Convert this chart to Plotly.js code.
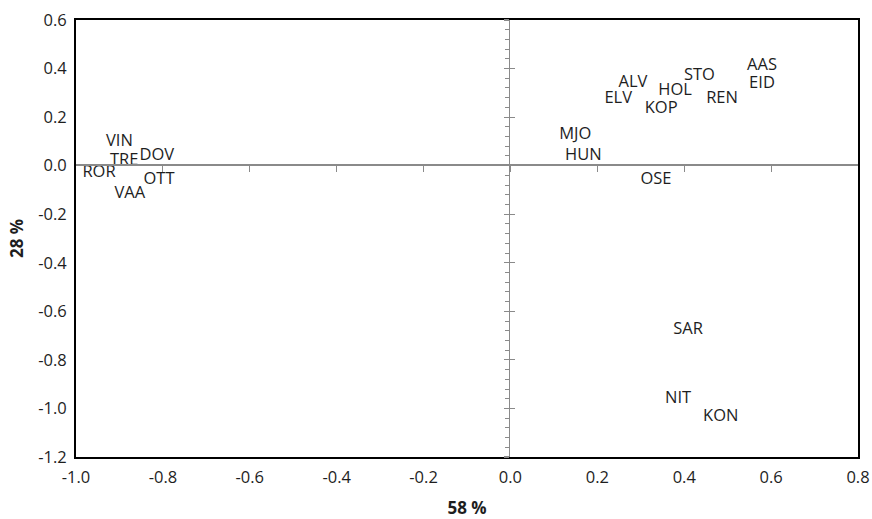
<!DOCTYPE html>
<html>
<head>
<meta charset="utf-8">
<script src="https://cdn.plot.ly/plotly-3.0.1.min.js"></script>
<style>html,body{margin:0;padding:0;background:#fff;}#chart{width:872px;height:519px;}</style>
</head>
<body>
<div id="chart"></div>
<script>
// Site labels and their coordinates on the two ordination axes
const labels = ["VIN","TRE","DOV","ROR","OTT","VAA","AAS","EID","STO","ALV","HOL","ELV","REN","KOP","MJO","HUN","OSE","SAR","NIT","KON"];
const axis1 = [-0.900,-0.889,-0.814,-0.947,-0.809,-0.876,0.579,0.579,0.435,0.282,0.379,0.248,0.487,0.347,0.149,0.168,0.335,0.409,0.386,0.484];
const axis2 = [0.098,0.021,0.040,-0.030,-0.059,-0.117,0.411,0.336,0.369,0.339,0.308,0.277,0.277,0.234,0.126,0.040,-0.057,-0.677,-0.961,-1.035];
const xTickVals = [-1.0,-0.8,-0.6,-0.4,-0.2,0.0,0.2,0.4,0.6,0.8];
const xTickText = ["-1.0","-0.8","-0.6","-0.4","-0.2","0.0","0.2","0.4","0.6","0.8"];
const yTickVals = [-1.2,-1.0,-0.8,-0.6,-0.4,-0.2,0.0,0.2,0.4,0.6];
const yTickText = ["-1.2","-1.0","-0.8","-0.6","-0.4","-0.2","0.0","0.2","0.4","0.6"];
const xTitle = "58 %";
const yTitle = "28 %";
const xRange = [-1.0, 0.8];
const yRange = [-1.2, 0.6];

const FONT = "Open Sans, Noto Sans, sans-serif";
const zeroColor = "#8a8a8a";
const textColor = "#1e1e1e";

// paper fractions where the value 0 falls on each axis
const zeroFracY = (0 - yRange[0]) / (yRange[1] - yRange[0]);
const zeroFracX = (0 - xRange[0]) / (xRange[1] - xRange[0]);

const trace = {
  type: "scatter",
  mode: "text",
  x: axis1,
  y: axis2,
  text: labels,
  textposition: "middle center",
  textfont: {family: FONT, size: 16.5, color: textColor},
  hoverinfo: "text",
  showlegend: false
};
// empty helper traces so the zero-line axes are drawn
const helper = (xa, ya) => ({type: "scatter", mode: "none", x: [], y: [], xaxis: xa, yaxis: ya, showlegend: false, hoverinfo: "skip"});

const layout = {
  width: 872,
  height: 519,
  margin: {l: 76, r: 14, t: 20, b: 62},
  paper_bgcolor: "#ffffff",
  plot_bgcolor: "rgba(0,0,0,0)",
  font: {family: FONT, color: textColor},
  showlegend: false,
  xaxis: {
    domain: [0, 1], range: xRange, tickmode: "array", tickvals: xTickVals, ticktext: xTickText,
    showgrid: false, zeroline: false,
    showline: true, mirror: true, linecolor: "#000", linewidth: 2,
    ticks: "", ticklabelstandoff: 4,
    tickfont: {family: FONT, size: 16.5, color: textColor},
    title: {text: xTitle, font: {family: FONT, size: 17, color: textColor, weight: "bold"}, standoff: 16}
  },
  yaxis: {
    domain: [0, 1], range: yRange, tickmode: "array", tickvals: yTickVals, ticktext: yTickText,
    showgrid: false, zeroline: false,
    showline: true, mirror: true, linecolor: "#000", linewidth: 2,
    ticks: "", ticklabelstandoff: 4,
    tickfont: {family: FONT, size: 16.5, color: textColor},
    title: {text: yTitle, font: {family: FONT, size: 17, color: textColor, weight: "bold"}, standoff: 10}
  },
  // horizontal zero line: top edge of a helper subplot occupying the lower part
  xaxis2: {
    domain: [0, 1], anchor: "y2", side: "top",
    range: xRange, tickmode: "array", tickvals: xTickVals,
    showgrid: false, zeroline: false, showticklabels: false,
    showline: true, linecolor: zeroColor, linewidth: 1.5,
    ticks: "inside", ticklen: 6, tickwidth: 1.2, tickcolor: zeroColor
  },
  yaxis2: {
    domain: [0, zeroFracY], anchor: "x2", range: [0, 1], visible: false
  },
  // vertical zero line: left edge of a helper subplot occupying the right part
  xaxis3: {
    domain: [zeroFracX, 1], anchor: "y3", range: [0, 1], visible: false
  },
  yaxis3: {
    domain: [0, 1], anchor: "x3", side: "left",
    range: yRange, tickmode: "array", tickvals: yTickVals,
    showgrid: false, zeroline: false, showticklabels: false,
    showline: true, linecolor: zeroColor, linewidth: 1.5,
    ticks: "outside", ticklen: 5, tickwidth: 1.2, tickcolor: zeroColor,
    minor: {ticks: "outside", ticklen: 4, dtick: 0.04, tick0: 0, tickwidth: 1, tickcolor: zeroColor, showgrid: false}
  },
  yaxis4: {
    domain: [0, 1], anchor: "x3", side: "left", overlaying: "y3",
    range: yRange, tickmode: "array", tickvals: yTickVals,
    showgrid: false, zeroline: false, showticklabels: false, showline: false,
    ticks: "inside", ticklen: 5, tickwidth: 1.2, tickcolor: zeroColor
  }
};

Plotly.newPlot("chart", [helper("x2", "y2"), helper("x3", "y3"), helper("x3", "y4"), trace], layout, {staticPlot: true, displayModeBar: false});
</script>
</body>
</html>
